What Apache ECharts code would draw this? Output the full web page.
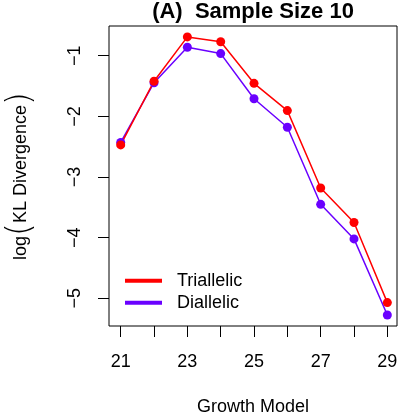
<!DOCTYPE html>
<html>
<head>
<meta charset="utf-8">
<script src="https://cdn.jsdelivr.net/npm/echarts@6/dist/echarts.min.js"></script>
<style>html,body{margin:0;padding:0;background:#fff}#c{width:399px;height:416px}</style>
</head>
<body>
<div id="c"></div>
<script>
const growthModels = [21, 22, 23, 24, 25, 26, 27, 28, 29];
const triallelic = [-2.47, -1.42, -0.69, -0.77, -1.455, -1.905, -3.18, -3.75, -5.07];
const diallelic = [-2.43, -1.445, -0.86, -0.965, -1.71, -2.18, -3.45, -4.02, -5.275];
const xTicks = [21, 22, 23, 24, 25, 26, 27, 28, 29];
const xTickLabels = [21, 23, 25, 27, 29];
const yTicks = [-5, -4, -3, -2, -1];
const titleText = '(A)  Sample Size 10';
const seriesNames = ['Triallelic', 'Diallelic'];

const FONT = 'Liberation Sans, Arial, Helvetica, sans-serif';
const RED = '#FF0000';
const PURPLE = '#6A00FF';

const chart = echarts.init(document.getElementById('c'), null, {renderer: 'canvas'});
chart.setOption({
  animation: false,
  backgroundColor: '#fff',
  title: {
    text: titleText,
    left: 253, top: 0, padding: 0, textAlign: 'center',
    textStyle: {fontFamily: FONT, fontSize: 22, fontWeight: 'bold', color: '#000', lineHeight: 24}
  },
  grid: {left: 109, right: 2, top: 26, bottom: 90, show: true, borderColor: '#000', borderWidth: 1,
         backgroundColor: 'transparent', containLabel: false, outerBoundsMode: 'none'},
  legend: {
    orient: 'vertical', left: 125, top: 271.7, padding: 0,
    data: [{name: seriesNames[0], icon: 'rect'}, {name: seriesNames[1], icon: 'rect'}],
    itemWidth: 37, itemHeight: 4, itemGap: 4,
    textStyle: {fontFamily: FONT, fontSize: 18, color: '#000', lineHeight: 18, padding: [0, 0, 0, 10]}
  },
  xAxis: {
    type: 'value', min: 20.649, max: 29.29,
    name: 'Growth Model', nameLocation: 'middle', nameGap: 72,
    nameTextStyle: {fontFamily: FONT, fontSize: 18, color: '#000', lineHeight: 18},
    axisLine: {show: false},
    splitLine: {show: false},
    axisTick: {show: true, length: 11, lineStyle: {color: '#000', width: 1}, customValues: xTicks},
    axisLabel: {customValues: xTickLabels, margin: 27, fontFamily: FONT, fontSize: 18, color: '#000', lineHeight: 18}
  },
  yAxis: {
    type: 'value', min: -5.456, max: -0.51,
    name: '{a|log}{p|(}{a|KL Divergence}{p|)}',
    nameLocation: 'middle', nameRotate: 90, nameGap: 70,
    nameTextStyle: {
      rich: {
        a: {fontFamily: FONT, fontSize: 18, color: '#000', lineHeight: 36},
        p: {fontFamily: "'DejaVu Sans ExtraLight', 'DejaVu Sans', sans-serif", fontWeight: 200, fontSize: 33, color: '#000', lineHeight: 36}
      }
    },
    axisLine: {show: false},
    splitLine: {show: false},
    axisTick: {show: true, length: 11, lineStyle: {color: '#000', width: 1}, customValues: yTicks},
    axisLabel: {
      customValues: yTicks, rotate: 90, margin: 25,
      fontFamily: FONT, fontSize: 18, color: '#000', lineHeight: 18,
      formatter: v => String(v).replace('-', '\u2212')
    }
  },
  series: [
    {
      name: seriesNames[1], type: 'line',
      data: growthModels.map((x, i) => [x, diallelic[i]]),
      symbol: 'circle', symbolSize: 9, showAllSymbol: true,
      lineStyle: {color: PURPLE, width: 1.5},
      itemStyle: {color: PURPLE}
    },
    {
      name: seriesNames[0], type: 'line',
      data: growthModels.map((x, i) => [x, triallelic[i]]),
      symbol: 'circle', symbolSize: 9, showAllSymbol: true,
      lineStyle: {color: RED, width: 1.5},
      itemStyle: {color: RED}
    }
  ]
});
</script>
</body>
</html>
